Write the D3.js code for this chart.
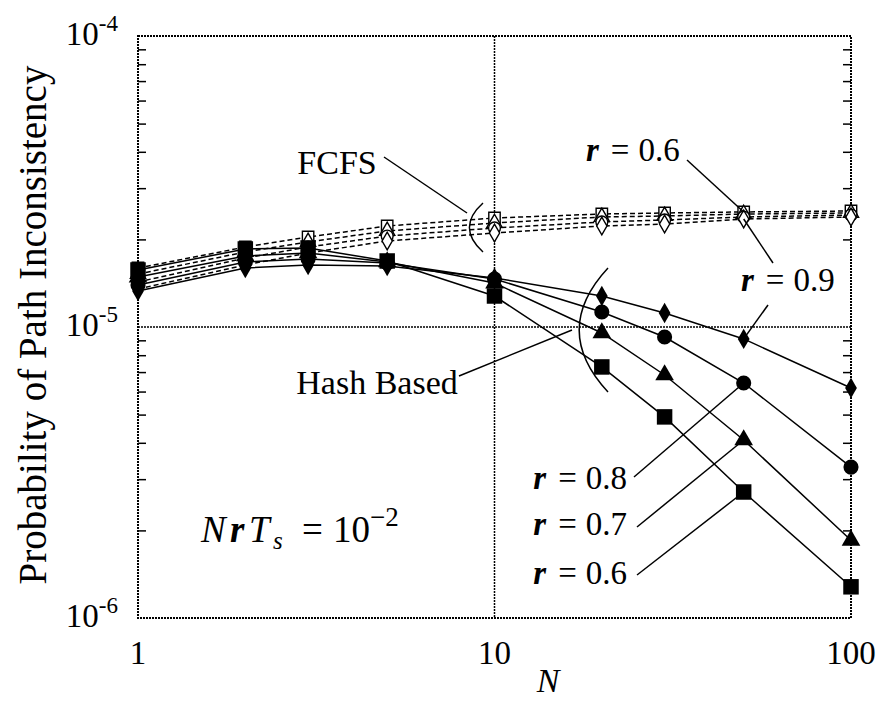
<!DOCTYPE html>
<html>
<head>
<meta charset="utf-8">
<script src="https://cdn.jsdelivr.net/npm/d3@7"></script>
<style>
  body { margin: 0; background: #fff; }
  text { font-family: "Liberation Serif", "DejaVu Serif", serif; fill: #000; }
</style>
</head>
<body>
<div id="chart"></div>
<script>
// data
var nValues = [1, 2, 3, 5, 10, 20, 30, 50, 100];
var rValues = [0.6, 0.7, 0.8, 0.9];

// hash based (filled markers, solid lines)
var hash06 = [1.570e-5, 1.854e-5, 1.869e-5, 1.686e-5, 1.278e-5, 7.29e-6, 4.91e-6, 2.71e-6, 1.28e-6];
var hash07 = [1.485e-5, 1.754e-5, 1.796e-5, 1.673e-5, 1.416e-5, 9.54e-6, 6.84e-6, 4.09e-6, 1.85e-6];
var hash08 = [1.394e-5, 1.673e-5, 1.713e-5, 1.660e-5, 1.462e-5, 1.126e-5, 9.24e-6, 6.42e-6, 3.30e-6];
var hash09 = [1.329e-5, 1.595e-5, 1.634e-5, 1.621e-5, 1.474e-5, 1.278e-5, 1.117e-5, 9.10e-6, 6.17e-6];

// FCFS (open markers, dashed lines)
var fcfs06 = [1.595e-5, 1.883e-5, 2.038e-5, 2.224e-5, 2.369e-5, 2.445e-5, 2.465e-5, 2.485e-5, 2.504e-5];
var fcfs07 = [1.521e-5, 1.810e-5, 1.960e-5, 2.138e-5, 2.277e-5, 2.388e-5, 2.407e-5, 2.445e-5, 2.465e-5];
var fcfs08 = [1.428e-5, 1.726e-5, 1.883e-5, 2.054e-5, 2.189e-5, 2.296e-5, 2.332e-5, 2.388e-5, 2.426e-5];
var fcfs09 = [1.351e-5, 1.634e-5, 1.796e-5, 1.975e-5, 2.104e-5, 2.224e-5, 2.259e-5, 2.350e-5, 2.388e-5];

var xTickLabels = ["1", "10", "100"];
var yTickExp = ["-6", "-5", "-4"];

// svg
var svgWidth = 882, svgHeight = 702;
var margin = { top: 36, right: 31, bottom: 84, left: 138 };
var chartWidth = svgWidth - margin.left - margin.right;
var chartHeight = svgHeight - margin.top - margin.bottom;

var svg = d3.select("#chart").append("svg")
    .attr("width", svgWidth).attr("height", svgHeight);
var g = svg.append("g").attr("transform", `translate(${margin.left},${margin.top})`);

// scales
var x = d3.scaleLog().domain([1, 100]).range([0, chartWidth]);
var y = d3.scaleLog().domain([1e-6, 1e-4]).range([chartHeight, 0]);

var frameDash = "2,1";

// minor ticks left and right (inside)
var minor = [];
[1e-6, 1e-5].forEach(function(dec) {
    for (var k = 2; k <= 9; k++) minor.push(dec * k);
});
g.append("g").call(d3.axisLeft(y).tickValues(minor).tickSize(-8).tickFormat(""))
    .call(a => a.select(".domain").remove())
    .selectAll("line").attr("stroke-width", 1.5);
g.append("g").attr("transform", `translate(${chartWidth},0)`)
    .call(d3.axisRight(y).tickValues(minor).tickSize(-8).tickFormat(""))
    .call(a => a.select(".domain").remove())
    .selectAll("line").attr("stroke-width", 1.5);

// grid lines at 10 and 1e-5
g.append("line").attr("x1", x(10)).attr("x2", x(10)).attr("y1", 0).attr("y2", chartHeight)
    .attr("stroke", "#000").attr("stroke-width", 1.5).attr("stroke-dasharray", frameDash);
g.append("line").attr("x1", 0).attr("x2", chartWidth).attr("y1", y(1e-5)).attr("y2", y(1e-5))
    .attr("stroke", "#000").attr("stroke-width", 1.5).attr("stroke-dasharray", frameDash);

// frame
g.append("rect").attr("width", chartWidth).attr("height", chartHeight)
    .attr("fill", "none").attr("stroke", "#000").attr("stroke-width", 2)
    .attr("stroke-dasharray", frameDash);

// x tick labels
g.selectAll(".xlab").data([1, 10, 100]).enter().append("text")
    .attr("x", d => x(d)).attr("y", chartHeight + 46)
    .attr("text-anchor", "middle").attr("font-size", 33)
    .text((d, i) => xTickLabels[i]);

// y tick labels 10^n
g.selectAll(".ylab").data([1e-6, 1e-5, 1e-4]).enter().append("text")
    .attr("x", -20).attr("y", d => y(d) + 9)
    .attr("text-anchor", "end").attr("font-size", 33)
    .each(function(d, i) {
        var t = d3.select(this);
        t.append("tspan").text("10");
        t.append("tspan").attr("dy", -14).attr("font-size", 23).text(yTickExp[i]);
    });

// axis titles
svg.append("text").attr("x", 548).attr("y", 692)
    .attr("text-anchor", "middle").attr("font-size", 34).attr("font-style", "italic").text("N");
svg.append("text").attr("transform", "rotate(-90)")
    .attr("x", -325).attr("y", 46)
    .attr("text-anchor", "middle").attr("font-size", 39)
    .text("Probability of Path Inconsistency");

// series
var shapes = [d3.symbolSquare, d3.symbolTriangle, d3.symbolCircle, d3.symbolDiamond];
var sizes = [240, 150, 180, 120];
var openSizes = [130, 100, 110, 90];
var hashSeries = [hash06, hash07, hash08, hash09];
var fcfsSeries = [fcfs06, fcfs07, fcfs08, fcfs09];

var line = d3.line().x(d => x(d[0])).y(d => y(d[1]));

fcfsSeries.forEach(function(vals, i) {
    var pts = nValues.map((n, j) => [n, vals[j]]);
    g.append("path").datum(pts).attr("d", line)
        .attr("fill", "none").attr("stroke", "#000").attr("stroke-width", 1.5)
        .attr("stroke-dasharray", "5,3");
    g.selectAll(".f" + i).data(pts).enter().append("path")
        .attr("transform", d => `translate(${x(d[0])},${y(d[1])})`)
        .attr("d", d3.symbol().type(shapes[i]).size(openSizes[i]))
        .attr("fill", "#fff").attr("stroke", "#000").attr("stroke-width", 1.4);
});

hashSeries.forEach(function(vals, i) {
    var pts = nValues.map((n, j) => [n, vals[j]]);
    g.append("path").datum(pts).attr("d", line)
        .attr("fill", "none").attr("stroke", "#000").attr("stroke-width", 1.5);
    g.selectAll(".h" + i).data(pts).enter().append("path")
        .attr("transform", d => `translate(${x(d[0])},${y(d[1])})`)
        .attr("d", d3.symbol().type(shapes[i]).size(sizes[i]))
        .attr("fill", "#000");
});

// annotations
function leader(x1, y1, x2, y2) {
    svg.append("line").attr("x1", x1).attr("y1", y1).attr("x2", x2).attr("y2", y2)
        .attr("stroke", "#000").attr("stroke-width", 1.5);
}
function rLabel(px, py, r, anchor) {
    var t = svg.append("text").attr("x", px).attr("y", py).attr("font-size", 33)
        .attr("text-anchor", anchor || "start");
    t.append("tspan").attr("font-weight", "bold").attr("font-style", "italic").text("r");
    t.append("tspan").attr("dx", 12).text("=");
    t.append("tspan").attr("dx", 9).text(r.toFixed(1));
}
function bracket(x0, yTop, yBot, xLeft) {
    var ym = (yTop + yBot) / 2;
    svg.append("path")
        .attr("d", `M${x0},${yTop} Q${xLeft - (x0 - xLeft) * 0.6},${ym} ${x0},${yBot}`)
        .attr("fill", "none").attr("stroke", "#000").attr("stroke-width", 1.5);
}

svg.append("text").attr("x", 337).attr("y", 174).attr("text-anchor", "middle")
    .attr("font-size", 34).text("FCFS");
leader(384, 157, 467, 213);
bracket(483, 203, 252, 466);

svg.append("text").attr("x", 377).attr("y", 394).attr("text-anchor", "middle")
    .attr("font-size", 34).text("Hash Based");
leader(459, 376, 572, 330);
bracket(608, 268, 392, 572);

var sx = margin.left, sy = margin.top;
rLabel(586, 161, rValues[0]);
leader(687, 160, sx + x(50), sy + y(fcfs06[7]));
rLabel(741, 291, rValues[3]);
leader(773, 263, sx + x(50), sy + y(fcfs09[7]));
leader(768, 305, sx + x(50), sy + y(hash09[7]));

rLabel(627, 489, rValues[2], "end");
leader(634, 477, sx + x(50), sy + y(hash08[7]));
rLabel(627, 535, rValues[1], "end");
leader(637, 527, sx + x(50), sy + y(hash07[7]));
rLabel(627, 584, rValues[0], "end");
leader(637, 575, sx + x(50), sy + y(hash06[7]));

// N r T_s = 10^-2
var f = svg.append("text").attr("y", 542).attr("font-size", 37);
f.append("tspan").attr("x", 201).attr("font-style", "italic").text("N");
f.append("tspan").attr("x", 230).attr("font-style", "italic").attr("font-weight", "bold").text("r");
f.append("tspan").attr("x", 249).attr("font-style", "italic").text("T");
f.append("tspan").attr("x", 273).attr("font-style", "italic").attr("font-size", 25).attr("dy", 7).text("s");
f.append("tspan").attr("x", 302).attr("dy", -7).text("=");
f.append("tspan").attr("x", 333).text("10");
f.append("tspan").attr("dy", -16).attr("font-size", 27).text("\u22122");
</script>
</body>
</html>
